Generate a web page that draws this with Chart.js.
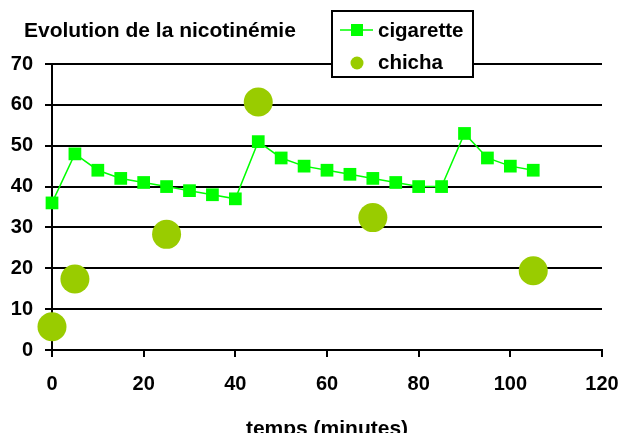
<!DOCTYPE html>
<html>
<head>
<meta charset="utf-8">
<script src="https://cdn.jsdelivr.net/npm/chart.js@4/dist/chart.umd.min.js"></script>
<style>
  html, body { margin: 0; padding: 0; background: #fff; }
  #wrap { width: 621px; height: 433px; }
</style>
</head>
<body>
<div id="wrap"><canvas id="myChart"></canvas></div>
<script>
const chartTitle = "Evolution de la nicotinémie";
const xTitle = "temps (minutes)";

const cigTimes = [0, 5, 10, 15, 20, 25, 30, 35, 40, 45, 50, 55, 60, 65, 70, 75, 80, 85, 90, 95, 100, 105];
const cigValues = [36, 48, 44, 42, 41, 40, 39, 38, 37, 51, 47, 45, 44, 43, 42, 41, 40, 40, 53, 47, 45, 44];

const chichaTimes = [0, 5, 25, 45, 70, 105];
const chichaValues = [5.7, 17.4, 28.3, 60.7, 32.4, 19.4];

const cigColor = "#00ff00";
const chichaColor = "#99cc00";
const font = "'Liberation Sans', Arial, sans-serif";

// title and boxed legend drawn on top of the canvas
const decorations = {
  id: "decorations",
  afterDraw(chart) {
    const ctx = chart.ctx;
    const ds = chart.data.datasets;
    ctx.save();
    ctx.fillStyle = "#000";
    ctx.font = "bold 21px " + font;
    ctx.textBaseline = "alphabetic";
    ctx.textAlign = "left";
    ctx.fillText(chartTitle, 24, 37);

    // legend box
    ctx.fillStyle = "#fff";
    ctx.fillRect(332, 11, 141, 66);
    ctx.strokeStyle = "#000";
    ctx.lineWidth = 2;
    ctx.strokeRect(332, 11, 141, 66);

    // cigarette entry
    ctx.strokeStyle = ds[0].borderColor;
    ctx.lineWidth = 1.5;
    ctx.beginPath();
    ctx.moveTo(340, 30);
    ctx.lineTo(373, 30);
    ctx.stroke();
    ctx.fillStyle = ds[0].pointBackgroundColor;
    ctx.fillRect(351, 24, 12, 12);

    // chicha entry
    ctx.fillStyle = ds[1].backgroundColor;
    ctx.beginPath();
    ctx.arc(357, 63, 6.5, 0, Math.PI * 2);
    ctx.fill();

    ctx.fillStyle = "#000";
    ctx.font = "bold 20.5px " + font;
    ctx.textBaseline = "middle";
    ctx.fillText(ds[0].label, 378, 31);
    ctx.fillText(ds[1].label, 378, 63);
    ctx.restore();
  }
};

const myChart = new Chart(document.getElementById("myChart").getContext("2d"), {
  type: "scatter",
  data: {
    datasets: [
      {
        label: "cigarette",
        data: cigTimes.map((t, i) => ({ x: t, y: cigValues[i] })),
        showLine: true,
        borderColor: cigColor,
        borderWidth: 1.5,
        pointStyle: "rect",
        pointRadius: 9,
        pointBackgroundColor: cigColor,
        pointBorderWidth: 0,
        clip: false,
      },
      {
        label: "chicha",
        data: chichaTimes.map((t, i) => ({ x: t, y: chichaValues[i] })),
        showLine: false,
        backgroundColor: chichaColor,
        pointBackgroundColor: chichaColor,
        pointRadius: 14.5,
        pointBorderWidth: 0,
        clip: false,
      },
    ],
  },
  options: {
    responsive: true,
    maintainAspectRatio: false,
    animation: false,
    layout: { padding: { top: 64, right: 19, left: 0, bottom: 0 } },
    plugins: {
      legend: { display: false },
      title: { display: false },
      tooltip: { enabled: false },
    },
    scales: {
      x: {
        type: "linear",
        min: 0,
        max: 120,
        afterFit: (scale) => {
          scale.height = 83;
          scale.paddingLeft = 0;
          scale.paddingRight = 0;
        },
        ticks: {
          stepSize: 20,
          color: "#000",
          padding: 15,
          font: { family: font, size: 20, weight: "bold" },
        },
        grid: {
          drawOnChartArea: false,
          drawTicks: true,
          tickLength: 7,
          color: "#000",
          lineWidth: 2,
        },
        border: { display: true, color: "#000", width: 2 },
        title: {
          display: true,
          text: xTitle,
          color: "#000",
          padding: { top: 0, bottom: -9 },
          font: { family: font, size: 21, weight: "bold" },
        },
      },
      y: {
        min: 0,
        max: 70,
        afterFit: (scale) => {
          scale.width = 52;
          scale.paddingTop = 0;
          scale.paddingBottom = 0;
        },
        ticks: {
          stepSize: 10,
          color: "#000",
          padding: 12,
          font: { family: font, size: 20, weight: "bold" },
        },
        grid: {
          color: "#000",
          lineWidth: 2,
          tickLength: 7,
        },
        border: { display: true, color: "#000", width: 2 },
      },
    },
  },
  plugins: [decorations],
});
</script>
</body>
</html>
